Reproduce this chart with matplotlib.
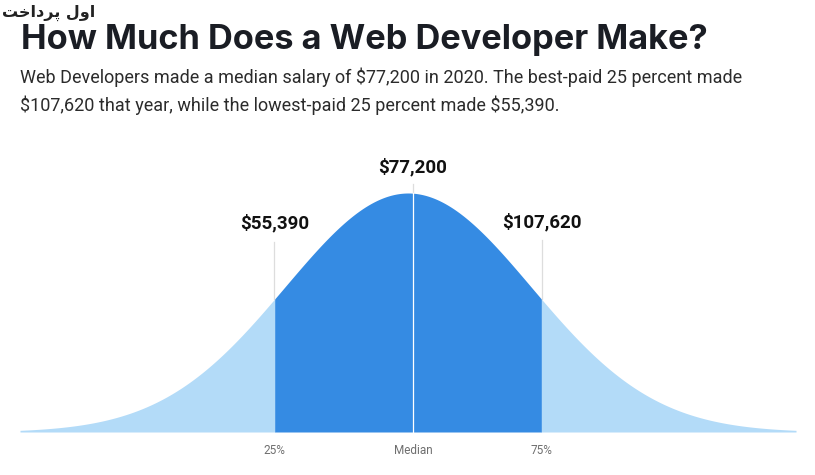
import numpy as np
import matplotlib
matplotlib.use("Agg")
import matplotlib.pyplot as plt

# ---- data ----
title = "How Much Does a Web Developer Make?"
subtitle_lines = [
    r"Web Developers made a median salary of \$77,200 in 2020. The best-paid 25 percent made",
    r"\$107,620 that year, while the lowest-paid 25 percent made \$55,390.",
]
marker_labels = ["25%", "Median", "75%"]
marker_values = [r"\$55,390", r"\$77,200", r"\$107,620"]
marker_pos = [-1.084, 0.04, 1.084]       # position on the curve (in curve sigmas)
curve_mean = 0.0
curve_sigma = 1.0
curve_span = 3.15
watermark = "\ufe96\ufea7\ufe8d\ufea9\ufeae\ufb58 \ufedd\ufeed\ufe8d"

DARK = "#358be3"
LIGHT = "#b3dbf8"

fig = plt.figure(figsize=(8.15, 4.75), dpi=100)
W, H = 815, 475

# axes mapped to pixels: x 20..796, y baseline 432, peak 193
ax = fig.add_axes([20 / W, (H - 432) / H, 776 / W, (432 - 193) / H])
ax.set_xlim(-curve_span, curve_span)
ax.set_ylim(0, 1)
ax.axis("off")

x = np.linspace(-curve_span, curve_span, 1500)
y = np.exp(-0.5 * ((x - curve_mean) / curve_sigma) ** 2)

q1, med, q3 = marker_pos
ax.fill_between(x, 0, y, where=(x <= q1 + 0.01), color=LIGHT, lw=0)
ax.fill_between(x, 0, y, where=(x >= q3 - 0.01), color=LIGHT, lw=0)
ax.fill_between(x, 0, y, where=(x >= q1) & (x <= q3), color=DARK, lw=0)

def ycurve(p):
    return float(np.exp(-0.5 * ((p - curve_mean) / curve_sigma) ** 2))

# vertical lines
line_tops = [(432 - 242) / 239, (432 - 184) / 239, (432 - 240) / 239]
for p, top in zip(marker_pos, line_tops):
    yc = ycurve(p)
    ax.plot([p, p], [yc, top], color="#dddddd", lw=0.9, clip_on=False)
    if p == med:
        ax.plot([p, p], [0, yc], color="white", lw=0.9, clip_on=False)

# value labels
val_y = [(432 - 228) / 239, (432 - 172) / 239, (432 - 227) / 239]
for p, v, vy in zip(marker_pos, marker_values, val_y):
    ax.text(p, vy, v, ha="center", va="baseline", fontsize=13.5,
            fontweight="bold", family="Roboto", color="#111111", clip_on=False)

# bottom labels
for p, lab in zip(marker_pos, marker_labels):
    ax.text(p, -(451 - 432) / 239, lab, ha="center", va="center", fontsize=8.5,
            family="Roboto", color="#6f6f6f", clip_on=False)

# title and subtitle
fig.text(21 / W, 1 - 49 / H, title, ha="left", va="baseline", fontsize=24.7,
         fontweight="bold", family="Inter", color="#1a1d24")
fig.text(20 / W, 1 - 83 / H, subtitle_lines[0], ha="left", va="baseline",
         fontsize=13, family="Roboto", color="#2b2b2b")
fig.text(20 / W, 1 - 111 / H, subtitle_lines[1], ha="left", va="baseline",
         fontsize=13, family="Roboto", color="#2b2b2b")

# watermark
fig.text(2 / W, 1 - 17 / H, watermark, ha="left", va="baseline", fontsize=11.5,
         fontweight="bold", family="DejaVu Sans", color="#222222")

fig.savefig("out.png", dpi=100, facecolor="white")
